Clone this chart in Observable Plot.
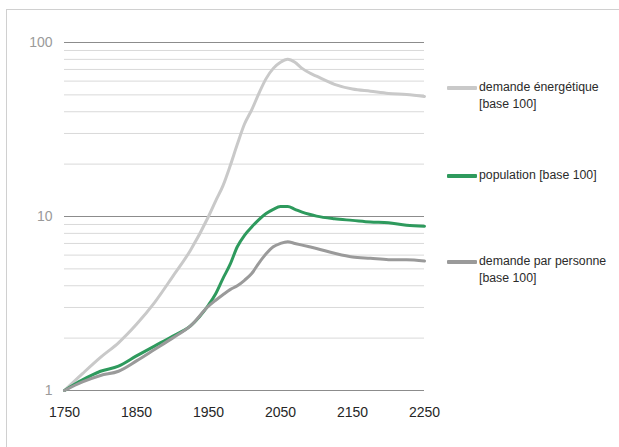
<!DOCTYPE html>
<html>
<head>
<meta charset="utf-8">
<script src="https://cdn.jsdelivr.net/npm/d3@7"></script>
<script src="https://cdn.jsdelivr.net/npm/@observablehq/plot@0.6"></script>
<style>
  body { margin: 0; background: #fff; font-family: "Liberation Sans", Arial, sans-serif; }
  #wrap { position: relative; width: 619px; height: 447px; overflow: hidden; background: #fff; }
  #frame { position: absolute; left: 6px; top: 9px; width: 700px; height: 600px; border: 1px solid #d0d0d0; box-sizing: border-box; }
  #chart { position: absolute; left: 0; top: 0; }
  #legend { position: absolute; left: 447px; top: 0; width: 172px; height: 447px; font-size: 12.3px; color: #2b2b2b; }
  .item { position: absolute; left: 0; display: flex; align-items: flex-start; line-height: 17px; white-space: pre-line; }
  .sw { width: 30px; height: 4px; margin-top: 7px; margin-right: 2px; border-radius: 1px; flex: none; }
</style>
</head>
<body>
<div id="wrap">
  <div id="frame"></div>
  <div id="chart"></div>
  <div id="legend"></div>
</div>
<script>
const years = [1750, 1775, 1800, 1825, 1850, 1875, 1900, 1925, 1950, 1960, 1970, 1980, 1990, 2000, 2010, 2020, 2030, 2040, 2050, 2060, 2070, 2080, 2090, 2100, 2125, 2150, 2175, 2200, 2225, 2250];
const energie = [1, 1.25, 1.55, 1.88, 2.4, 3.2, 4.5, 6.4, 10, 12.3, 15, 19.5, 26, 34, 41, 51, 62, 71, 77, 80, 77, 71, 67, 64, 57.5, 54, 52.5, 51, 50.2, 49];
const population = [1, 1.15, 1.29, 1.38, 1.58, 1.8, 2.05, 2.35, 3.1, 3.6, 4.4, 5.3, 6.7, 7.8, 8.7, 9.6, 10.4, 11.0, 11.4, 11.4, 11.0, 10.6, 10.3, 10.05, 9.7, 9.5, 9.3, 9.2, 8.9, 8.8];
const parPersonne = [1, 1.12, 1.22, 1.29, 1.48, 1.72, 2.0, 2.35, 3.05, 3.3, 3.55, 3.8, 4.0, 4.3, 4.7, 5.4, 6.1, 6.7, 7.0, 7.15, 7.0, 6.85, 6.7, 6.55, 6.15, 5.85, 5.75, 5.65, 5.65, 5.55];

const seriesNames = ["demande énergétique\n[base 100]", "population [base 100]", "demande par personne\n[base 100]"];
const seriesColors = ["#c9c9c9", "#2e9a5d", "#9a9a9a"];
const yMajor = [1, 10, 100];
const yMinor = [2, 3, 4, 5, 6, 7, 8, 9, 20, 30, 40, 50, 60, 70, 80, 90];
const xTicks = [1750, 1850, 1950, 2050, 2150, 2250];

const allSeries = [energie, population, parPersonne];
const data = [];
allSeries.forEach((vals, i) => years.forEach((yr, j) => data.push({ year: yr, value: vals[j], series: seriesNames[i] })));

const chart = Plot.plot({
  width: 619,
  height: 447,
  marginLeft: 64,
  marginRight: 195,
  marginTop: 42,
  marginBottom: 57,
  style: { fontFamily: "Liberation Sans, Arial, sans-serif", fontSize: "14px", background: "transparent", overflow: "visible" },
  x: { domain: [1750, 2250] },
  y: { type: "log", domain: [1, 100] },
  color: { domain: seriesNames, range: seriesColors },
  marks: [
    Plot.ruleY(yMinor, { stroke: "#d9d9d9", strokeWidth: 1 }),
    Plot.ruleY(yMajor, { stroke: "#8c8c8c", strokeWidth: 1 }),
    Plot.axisY({ ticks: yMajor, tickSize: 0, tickPadding: 12, fill: "#9a9a9a", tickFormat: d => String(d), label: null }),
    Plot.axisX({ ticks: xTicks, tickSize: 0, tickPadding: 17, fill: "#262626", tickFormat: d => String(d), label: null }),
    Plot.line(data, { x: "year", y: "value", z: "series", stroke: "series", strokeWidth: 3, curve: "monotone-x" })
  ]
});
document.getElementById("chart").appendChild(chart);

// legend
const legendCenters = [87, 175, 261];
const legend = document.getElementById("legend");
seriesNames.forEach((name, i) => {
  const item = document.createElement("div");
  item.className = "item";
  item.style.top = (legendCenters[i] - 8.5) + "px";
  const sw = document.createElement("div");
  sw.className = "sw";
  sw.style.background = seriesColors[i];
  const txt = document.createElement("div");
  txt.textContent = name;
  item.appendChild(sw);
  item.appendChild(txt);
  legend.appendChild(item);
});
</script>
</body>
</html>
